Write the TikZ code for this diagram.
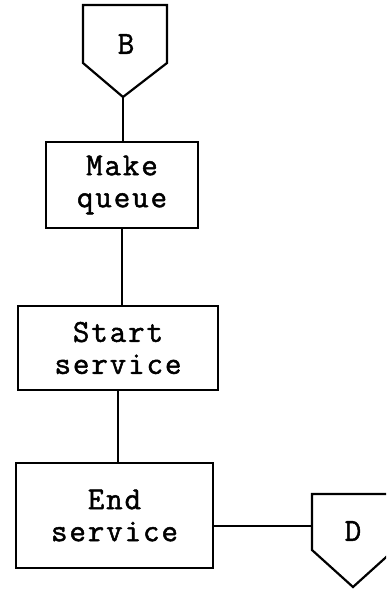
\documentclass[tikz,border=0pt]{standalone}
\usepackage{fontspec}
\setmonofont{Latin Modern Mono}[LetterSpace=6, FakeBold=1.5]
\begin{document}
\begin{tikzpicture}[x=1pt,y=-1pt,
  ln/.style={line width=2.2pt, line join=miter},
  proc/.style={draw, line width=2.2pt, inner sep=0pt, align=center,
    font=\fontsize{32}{32}\selectfont\ttfamily},
  lbl/.style={inner sep=0pt, font=\fontsize{32}{32}\selectfont\ttfamily}]
\useasboundingbox (0,0) rectangle (386,589);
\clip (0,0) rectangle (386,589);
% off-page connector B
\draw[ln] (83,5) -- (167,5) -- (167,63) -- (123,97) -- (83,63) -- cycle;
\coordinate (Bpt) at (123,97);
\node[lbl] (B) at (126,44) {B};
% process boxes
\node[proc, minimum width=152pt, minimum height=86pt] (mq) at (122,185) {Make\\queue};
\node[proc, minimum width=200pt, minimum height=84pt] (ss) at (118,348) {Start\\service};
\node[proc, minimum width=197pt, minimum height=105pt] (es) at (114.5,515.5) {End\\service};
% off-page connector D
\draw[ln] (394,494) -- (312,494) -- (312,550) -- (353,587) -- (394,550);
\coordinate (Dl) at (312,526);
\node[lbl] (D) at (353,531) {D};
% connectors
\draw[ln] (Bpt) -- (Bpt |- mq.north);
\draw[ln] (mq.south) -- (mq.south |- ss.north);
\draw[ln] (ss.south) -- (ss.south |- es.north);
\draw[ln] (es.east |- Dl) -- (Dl);
\end{tikzpicture}
\end{document}
